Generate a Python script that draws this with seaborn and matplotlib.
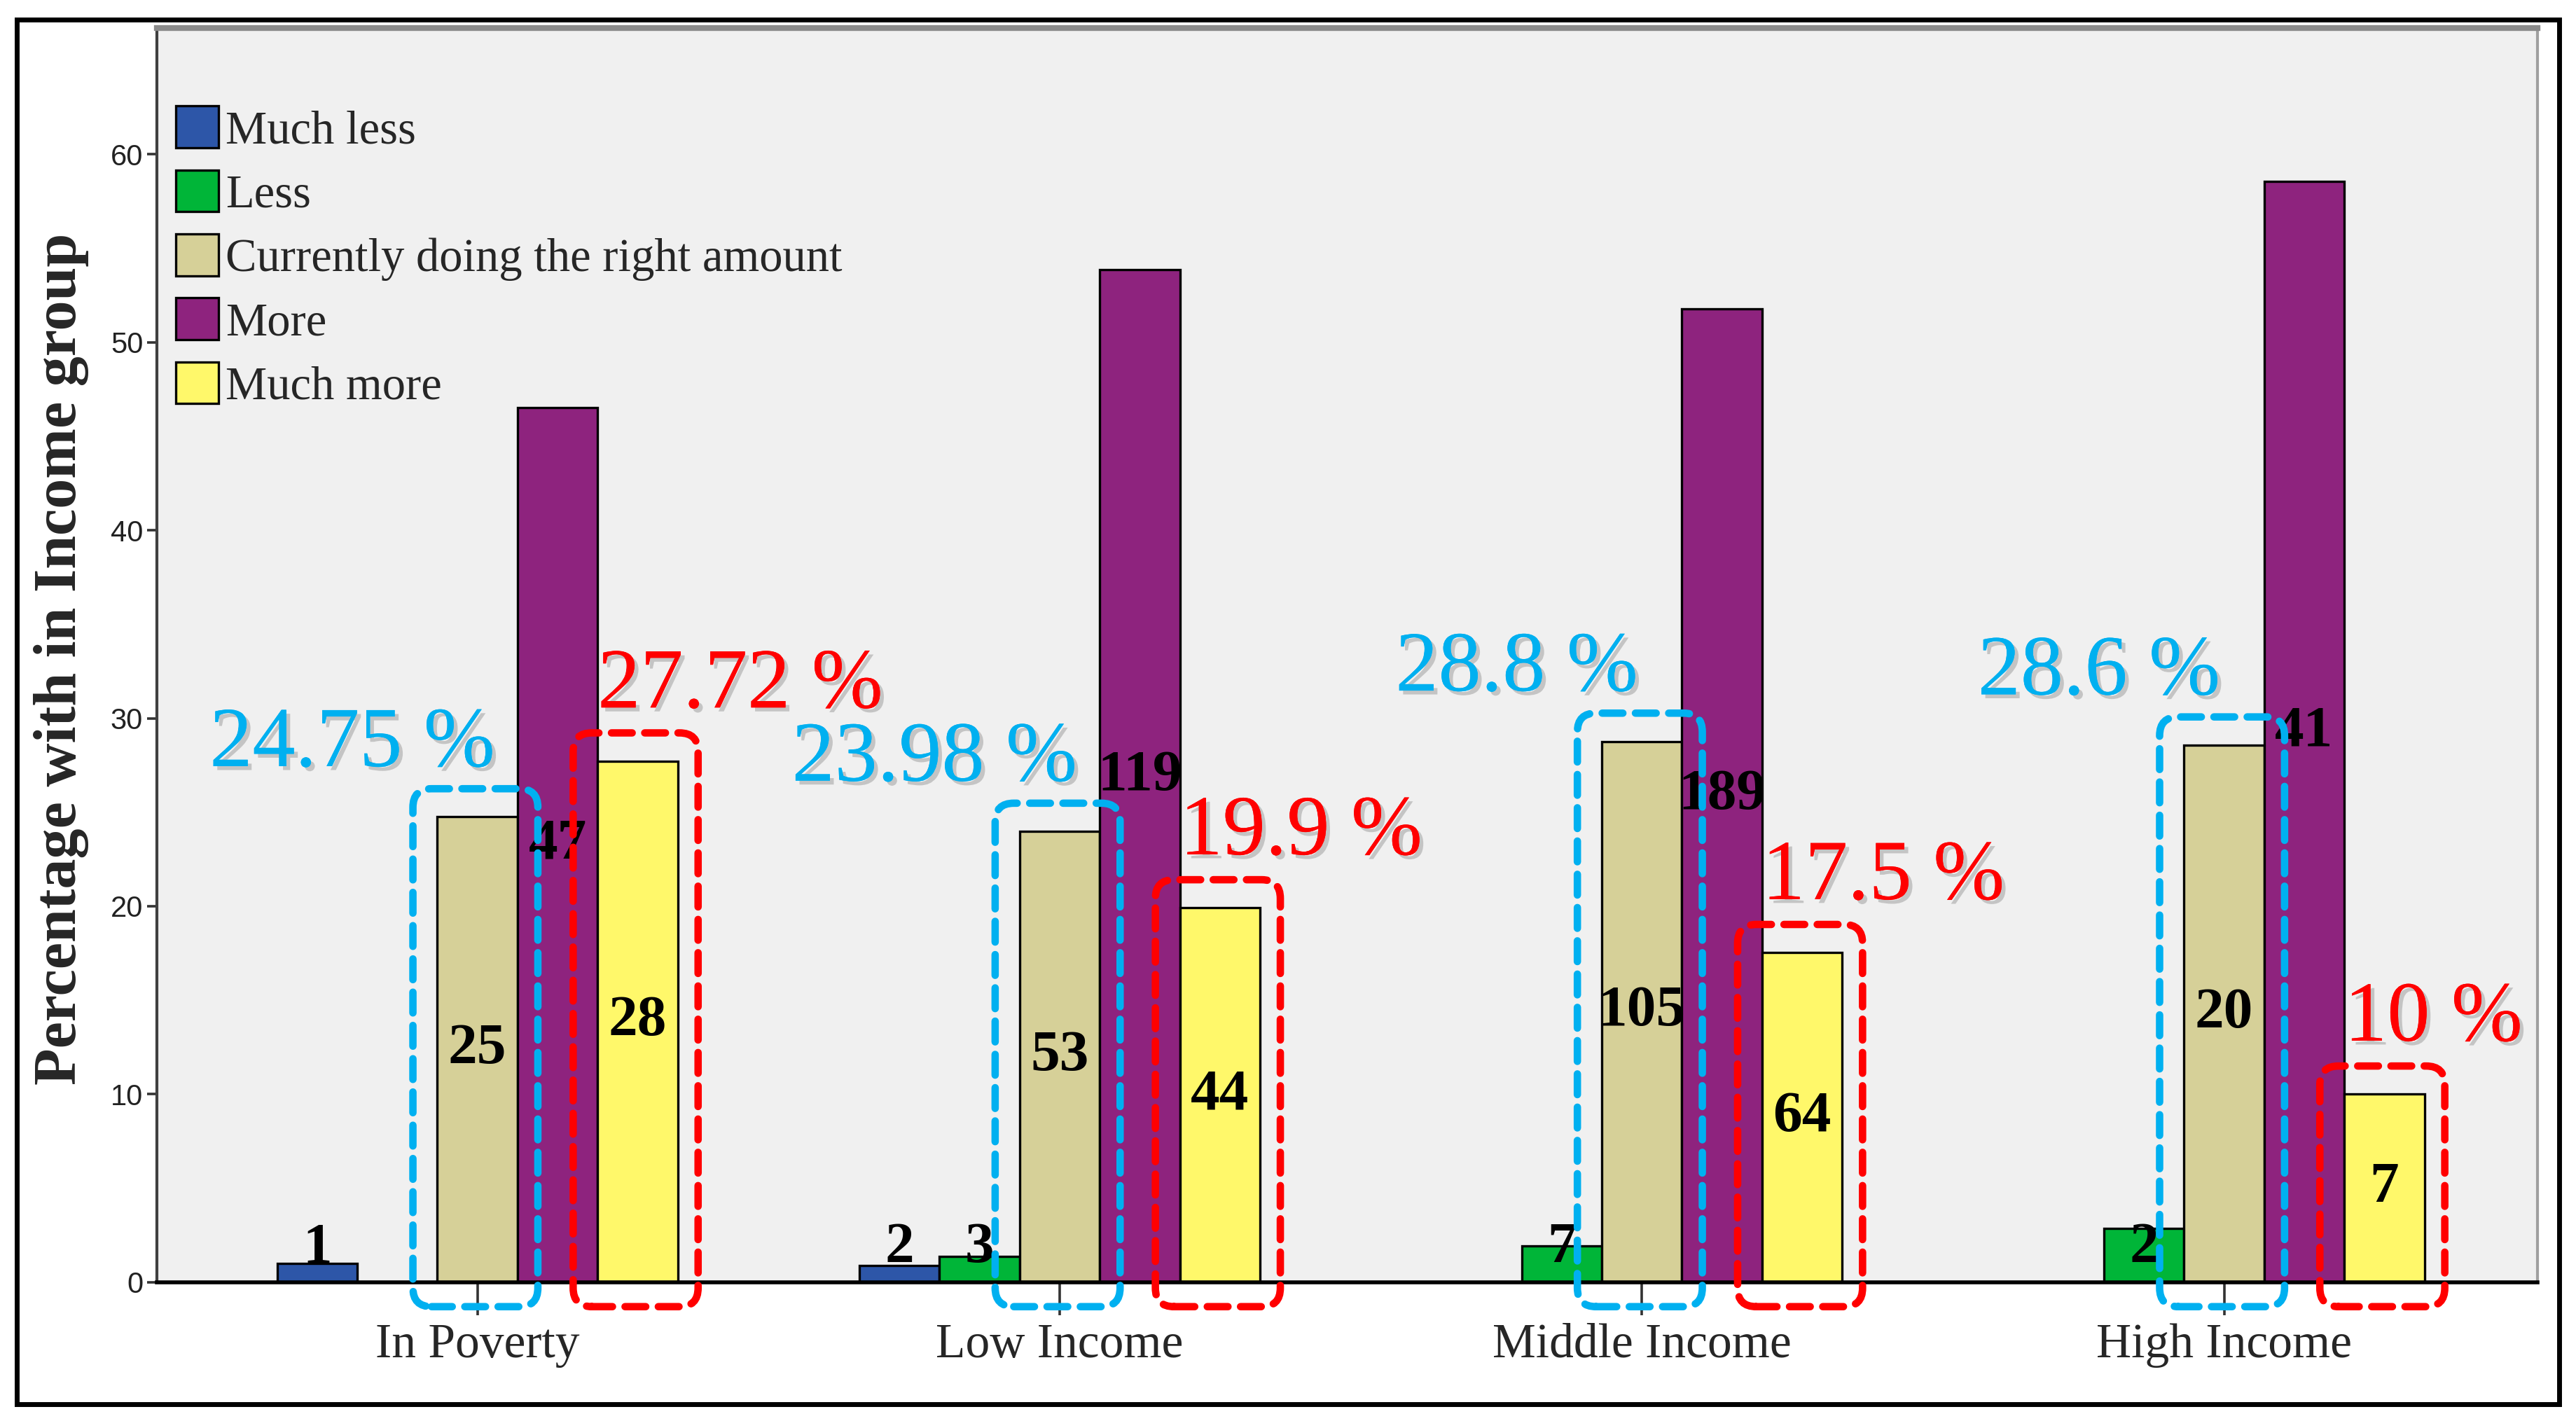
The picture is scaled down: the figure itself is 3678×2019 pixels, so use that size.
import numpy as np
import pandas as pd
import seaborn as sns
import matplotlib
matplotlib.use('Agg')
import matplotlib.pyplot as plt
from matplotlib.patches import FancyBboxPatch, Rectangle
import matplotlib.patheffects as pe

# data
groups = ['In Poverty', 'Low Income', 'Middle Income', 'High Income']
responses = ['Much less', 'Less', 'Currently doing the right amount', 'More', 'Much more']

much_less_pct = [0.99, 0.90, 0.0, 0.0]
less_pct = [0.0, 1.36, 1.92, 2.86]
right_amount_pct = [24.75, 23.98, 28.77, 28.57]
more_pct = [46.53, 53.85, 51.78, 58.57]
much_more_pct = [27.72, 19.91, 17.53, 10.00]

much_less_n = [1, 2, 0, 0]
less_n = [0, 3, 7, 2]
right_amount_n = [25, 53, 105, 20]
more_n = [47, 119, 189, 41]
much_more_n = [28, 44, 64, 7]

blue_notes = ['24.75 %', '23.98 %', '28.8 %', '28.6 %']
red_notes = ['27.72 %', '19.9 %', '17.5 %', '10 %']

colors = ['#2D56A8', '#00B538', '#D6D098', '#8E237E', '#FFF86A']

pct_cols = [much_less_pct, less_pct, right_amount_pct, more_pct, much_more_pct]
n_cols = [much_less_n, less_n, right_amount_n, more_n, much_more_n]

rows = []
for r, pcts, ns in zip(responses, pct_cols, n_cols):
    for g, p, n in zip(groups, pcts, ns):
        rows.append({'group': g, 'response': r, 'pct': p, 'n': n})
df = pd.DataFrame(rows)

sns.set_style('ticks')
plt.rcParams['font.family'] = ['Liberation Serif', 'DejaVu Serif']

fig = plt.figure(figsize=(18.39, 10.095), dpi=200)
ax = fig.add_axes([0.0608, 0.0932, 0.985 - 0.0608, 0.980 - 0.0932])
ax.set_facecolor('#F0F0F0')

sns.barplot(data=df, x='group', y='pct', hue='response', order=groups,
            hue_order=responses, palette=colors, width=0.688, saturation=1,
            errorbar=None, edgecolor='black', linewidth=1.2, ax=ax)

ax.set_xlim(-0.551, 3.538)
ax.set_ylim(0, 66.7)
ax.set_yticks(range(0, 61, 10))
ax.set_xlabel('')
ax.set_ylabel('')

for lab in ax.get_yticklabels():
    lab.set_family(['Liberation Sans Narrow', 'Liberation Sans'])
    lab.set_fontsize(15)
    lab.set_color('#222222')
ax.tick_params(axis='y', length=5, width=1.3, color='#333333', pad=2)
ax.tick_params(axis='x', length=17, width=1.3, color='#333333', pad=4, labelsize=25)

ax.spines['left'].set_color('#404040')
ax.spines['left'].set_linewidth(1.5)
ax.spines['top'].set_visible(True)
ax.spines['top'].set_color('#8A8A8A')
ax.spines['top'].set_linewidth(3)
ax.spines['right'].set_visible(True)
ax.spines['right'].set_color('#A0A0A0')
ax.spines['right'].set_linewidth(1.5)
ax.spines['bottom'].set_color('black')
ax.spines['bottom'].set_linewidth(2)

# count labels inside the bars
for j, cont in enumerate(ax.containers):
    for bar in cont:
        xc = bar.get_x() + bar.get_width() / 2
        gi = int(round(xc))
        n = n_cols[j][gi]
        if n == 0:
            continue
        h = bar.get_height()
        ax.text(xc, max(h / 2, 1.8), str(n), ha='center', va='center',
                fontsize=30, fontweight='bold', color='black', zorder=4)

# dashed highlight boxes + percentage notes
bb = ax.get_window_extent()
asp = ((66.7 - 0) / bb.height) / ((3.538 + 0.551) / bb.width)

def box(bar, color):
    x0 = bar.get_x() - 0.042
    x1 = bar.get_x() + bar.get_width() + 0.035
    y0 = -1.3
    y1 = bar.get_height() + 1.5
    p = FancyBboxPatch((x0, y0), x1 - x0, y1 - y0,
                       boxstyle='round,pad=0,rounding_size=0.032',
                       mutation_aspect=asp, fill=False, edgecolor=color,
                       linewidth=3.8, linestyle=(0, (2.8, 1.7)), clip_on=False,
                       capstyle='round', zorder=5)
    ax.add_patch(p)

shadow = [pe.withSimplePatchShadow(offset=(2, -2), shadow_rgbFace='#9A9A9A', alpha=0.5),
          pe.Normal()]

for bar in ax.containers[2]:
    gi = int(round(bar.get_x() + bar.get_width() / 2))
    box(bar, '#00B0F0')
    ax.text(bar.get_x() + bar.get_width() / 2 - 0.215, bar.get_height() + 2.7,
            blue_notes[gi], ha='center', va='baseline', fontsize=44,
            color='#00B0F0', zorder=6, path_effects=shadow)

for bar in ax.containers[4]:
    gi = int(round(bar.get_x() + bar.get_width() / 2))
    box(bar, '#FF0000')
    ax.text(bar.get_x() + 0.0, bar.get_height() + 2.85,
            red_notes[gi], ha='left', va='baseline', fontsize=44,
            color='#FF0000', zorder=6, path_effects=shadow)

# legend
handles, labels = ax.get_legend_handles_labels()
ax.legend(handles, labels, loc='upper left', bbox_to_anchor=(0.008, 0.938),
          frameon=False, fontsize=24, handlelength=0.92, handleheight=1.0,
          handletextpad=0.15, labelspacing=0.37, borderpad=0, borderaxespad=0)

fig.text(0.0237, 0.534, 'Percentage with in Income group', rotation=90,
         ha='center', va='center', fontsize=31, fontweight='bold')

# outer frame
fig.patches.append(Rectangle((0.0064, 0.007), 0.9872, 0.979, transform=fig.transFigure,
                             fill=False, edgecolor='black', linewidth=2.5))

fig.savefig('out.png', dpi=200, facecolor='white')
